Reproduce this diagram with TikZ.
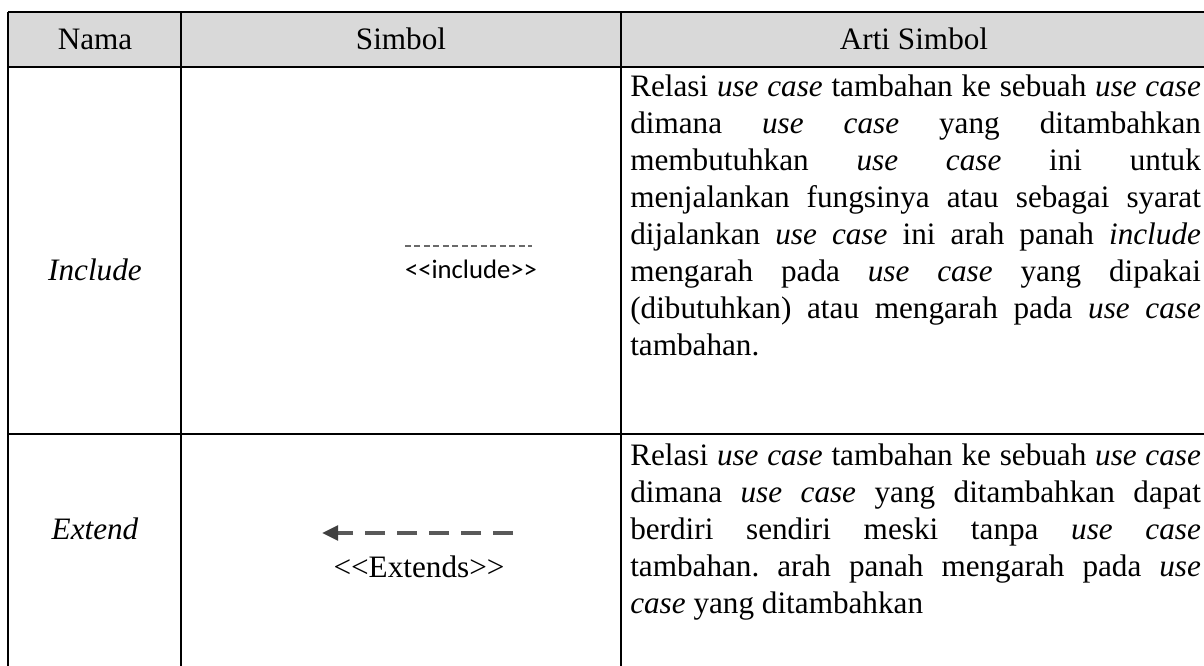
\documentclass[tikz,border=0pt]{standalone}
\usepackage{fontspec}
\setmainfont{Liberation Serif}
\newfontfamily\labelsans{Carlito}
\usetikzlibrary{arrows.meta}
\definecolor{headfill}{HTML}{D9D9D9}
\definecolor{dashgray}{HTML}{595959}
\definecolor{tipgray}{HTML}{404040}
\definecolor{incgray}{HTML}{6A6A6A}
\begin{document}
\begin{tikzpicture}[x=0.75pt,y=-0.75pt,
  rule/.style={line width=1.8pt, black},
  cell/.style={font=\fontsize{23.4}{27.75}\selectfont, inner sep=0pt},
  headtext/.style={cell, anchor=base},
  desc/.style={cell, text width=428pt, align=justify, anchor=base west,
    execute at begin node={\frenchspacing\tolerance=10000\hyphenpenalty=10000}},
]
\useasboundingbox (0,0) rectangle (1204,666);

% header band
\fill[headfill] (8,12) rectangle (1210,67);

% table rules
\draw[rule] (8,12) -- (1210,12);
\draw[rule] (8,67) -- (1210,67);
\draw[rule] (8,434) -- (1210,434);
\draw[rule] (8,12) -- (8,670);
\draw[rule] (181,12) -- (181,670);
\draw[rule] (621,12) -- (621,670);

% header
\node[headtext] (hNama) at (95,50) {Nama};
\node[headtext] (hSimbol) at (401,50) {Simbol};
\node[headtext] (hArti) at (914,50) {Arti Simbol};

% row names
\node[headtext] (nInclude) at (95,281) {\itshape Include};
\node[headtext] (nExtend) at (95,540) {\itshape Extend};

% include symbol
\coordinate (incL) at (405,246);
\coordinate (incR) at (532,246);
\draw[incgray, line width=0.8pt, dash pattern=on 4.5pt off 2.6pt] (incL) -- (incR);
\node[inner sep=0pt, anchor=base, font=\labelsans\fontsize{20}{22}\selectfont] (incLabel) at (471,279) {<{}<include>{}>};

% extend symbol
\coordinate (extR) at (513,533);
\coordinate (extL) at (322,533);
\draw[dashgray, line width=2.5pt, dash pattern=on 15pt off 9pt,
  -{Triangle[length=12pt,width=11pt,color=tipgray]}] (extR) -- (extL);
\node[cell, anchor=base] (extLabel) at (419,577) {<{}<Extends>{}>};

% descriptions
\node[desc] (dInclude) at (630,97) {%
Relasi \textit{use case} tambahan ke sebuah \textit{use case}\linebreak
dimana \textit{use case} yang ditambahkan\linebreak
membutuhkan \textit{use case} ini untuk\linebreak
menjalankan fungsinya atau sebagai syarat\linebreak
dijalankan \textit{use case} ini arah panah \textit{include}\linebreak
mengarah pada \textit{use case} yang dipakai\linebreak
(dibutuhkan) atau mengarah pada \textit{use case}\linebreak
tambahan.};

\node[desc] (dExtend) at (630,466) {%
Relasi \textit{use case} tambahan ke sebuah \textit{use case}\linebreak
dimana \textit{use case} yang ditambahkan dapat\linebreak
berdiri sendiri meski tanpa \textit{use case}\linebreak
tambahan. arah panah mengarah pada \textit{use}\linebreak
\textit{case} yang ditambahkan};
\end{tikzpicture}
\end{document}
